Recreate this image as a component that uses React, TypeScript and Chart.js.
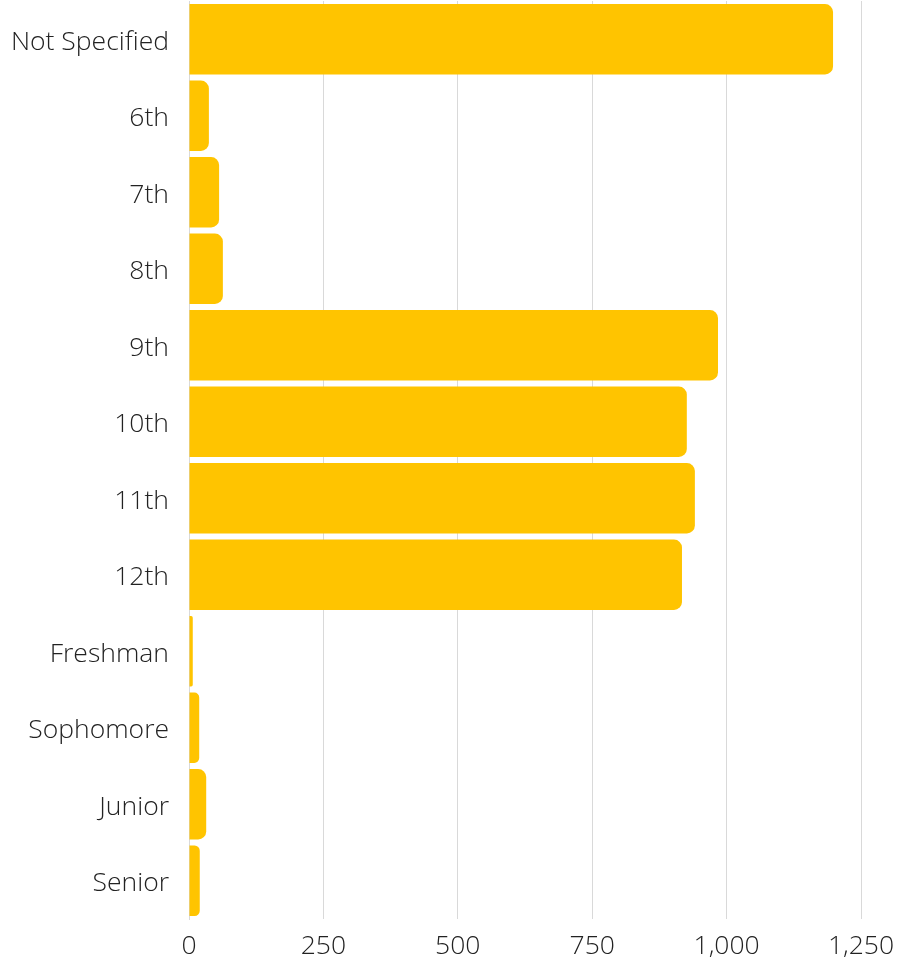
import React, { useEffect, useRef } from "react";
import { Chart, registerables } from "chart.js";

Chart.register(...registerables);

const categories = ["Not Specified", "6th", "7th", "8th", "9th", "10th", "11th", "12th", "Freshman", "Sophomore", "Junior", "Senior"];
const counts = [1198, 37, 56, 63, 984, 926, 941, 917, 7, 19, 32, 20];
const xTicks = [0, 250, 500, 750, 1000, 1250];

export default function App() {
  const ref = useRef<HTMLCanvasElement | null>(null);
  useEffect(() => {
    document.body.style.margin = "0";
    const ctx = ref.current!;
    const font = { family: "'Open Sans'", size: 26.5, weight: 300 as any };
    const chart = new Chart(ctx, {
      type: "bar",
      data: {
        labels: categories,
        datasets: [
          {
            data: counts,
            backgroundColor: "#FFC400",
            borderRadius: 8,
            borderSkipped: "start",
            barPercentage: 0.92,
            categoryPercentage: 1,
          },
        ],
      },
      options: {
        indexAxis: "y",
        animation: false,
        responsive: false,
        maintainAspectRatio: false,
        layout: { padding: { top: 1, right: 42, left: 0, bottom: 0 } },
        plugins: { legend: { display: false }, tooltip: { enabled: false } },
        scales: {
          x: {
            min: 0,
            max: 1250,
            afterBuildTicks: (axis: any) => {
              axis.ticks = xTicks.map((v) => ({ value: v }));
            },
            afterFit: (s: any) => {
              s.paddingLeft = 0;
              s.paddingRight = 0;
              s.height = 41;
            },
            grid: { color: "#d9d9d9", drawTicks: false, lineWidth: 1 },
            border: { display: false },
            ticks: {
              color: "#222222",
              padding: 12,
              maxRotation: 0,
              font,
              callback: (v: any) => Number(v).toLocaleString("en-US"),
            },
          },
          y: {
            afterFit: (s: any) => {
              s.paddingTop = 0;
              s.paddingBottom = 0;
              s.width = 189;
            },
            grid: { display: false, drawTicks: false },
            border: { display: true, color: "#d9d9d9" },
            ticks: {
              color: "#222222",
              padding: 20,
              labelOffset: 3,
              font,
            },
          },
        },
      },
    });
    return () => chart.destroy();
  }, []);
  return (
    <div style={{ width: 903, height: 960 }}>
      <canvas ref={ref} width={903} height={960} style={{ width: 903, height: 960 }} />
    </div>
  );
}
